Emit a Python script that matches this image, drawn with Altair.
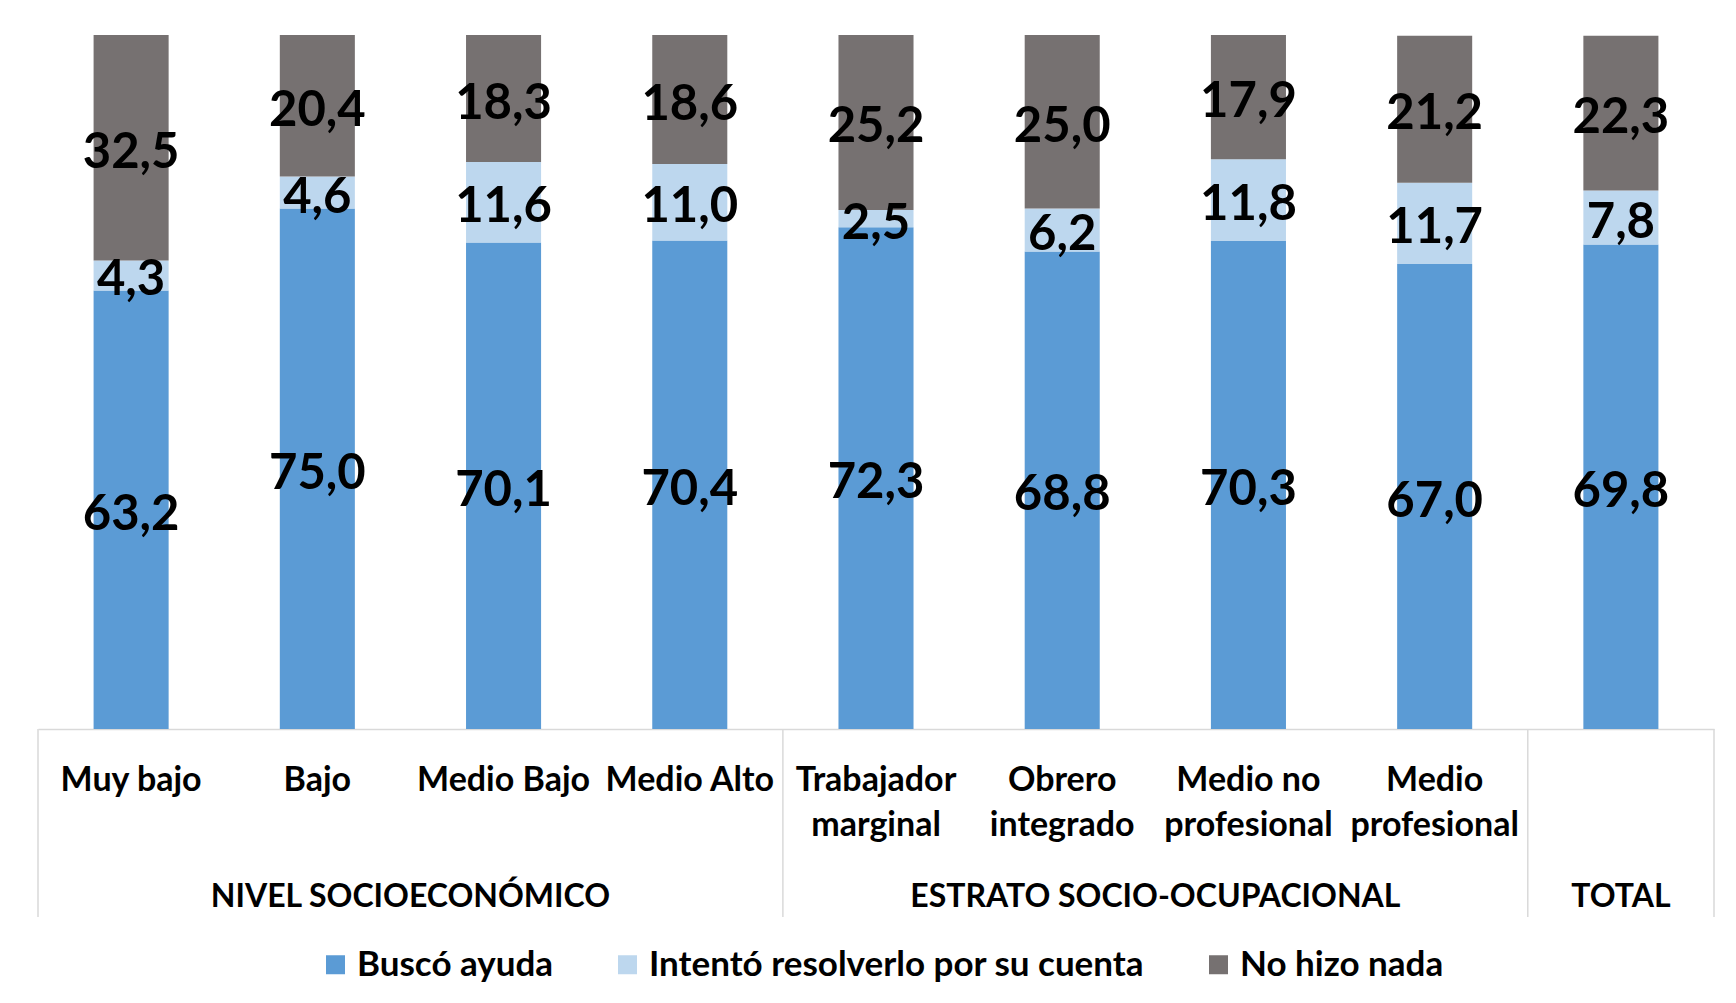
import altair as alt
import pandas as pd

categories = ["Muy bajo", "Bajo", "Medio Bajo", "Medio Alto", "Trabajador|marginal",
              "Obrero|integrado", "Medio no|profesional", "Medio|profesional", "TOTAL"]
series = ["Buscó ayuda", "Intentó resolverlo por su cuenta", "No hizo nada"]
busco = [63.2, 75.0, 70.1, 70.4, 72.3, 68.8, 70.3, 67.0, 69.8]
intento = [4.3, 4.6, 11.6, 11.0, 2.5, 6.2, 11.8, 11.7, 7.8]
nada = [32.5, 20.4, 18.3, 18.6, 25.2, 25.0, 17.9, 21.2, 22.3]
colors = ["#5B9BD5", "#BDD7EE", "#767171"]

group_names = ["NIVEL SOCIOECONÓMICO", "ESTRATO SOCIO-OCUPACIONAL"]
group_anchor = ["Medio Bajo", "Medio no|profesional"]   # label sits at left edge of this band
total_group = ["TOTAL"]
sep_left = ["Muy bajo", "Trabajador|marginal", "TOTAL"]
sep_right = ["TOTAL"]

rows = []
for i, c in enumerate(categories):
    for k, (s, vals) in enumerate(zip(series, [busco, intento, nada])):
        v = vals[i]
        rows.append({"cat": c, "serie": s, "value": v, "ord": k,
                     "label": f"{v:.1f}".replace(".", ",")})
df = pd.DataFrame(rows)

FONT = "Lato"
x_enc = alt.X("cat:N", sort=categories,
              scale=alt.Scale(paddingInner=0, paddingOuter=0),
              axis=alt.Axis(title=None, labelAngle=0, ticks=False,
                            domainColor="#D9D9D9", domainWidth=1.5,
                            labelFont=FONT, labelFontSize=34, labelFontWeight="bold",
                            labelColor="#000000", labelBaseline="top",
                            labelPadding=34, labelLineHeight=45, labelLimit=500,
                            labelOverlap=False, labelFlush=False,
                            labelExpr="datum.label == 'TOTAL' ? '' : split(datum.label, '|')"))
y_scale = alt.Scale(domain=[0, 100], nice=False)

base = alt.Chart(df)

bars = base.mark_bar(width=alt.RelativeBandSize(0.403)).encode(
    x=x_enc,
    y=alt.Y("value:Q", stack="zero", scale=y_scale, axis=None),
    color=alt.Color("serie:N", sort=series,
                    scale=alt.Scale(domain=series, range=colors),
                    legend=alt.Legend(title=None, orient="none", direction="horizontal",
                                      columns=3, legendX=280, legendY=912,
                                      symbolType="square", symbolSize=361,
                                      symbolStrokeWidth=0, labelFont=FONT,
                                      labelFontSize=35, labelFontWeight="bold",
                                      labelColor="#000000", columnPadding=56,
                                      labelOffset=4, labelLimit=800)),
    order=alt.Order("ord:Q"),
)

texts = base.transform_stack(
    stack="value", groupby=["cat"], sort=[alt.SortField("ord")], as_=["y0", "y1"]
).transform_calculate(
    mid="(datum.y0 + datum.y1) / 2"
).mark_text(font=FONT, fontSize=49, fontWeight="bold", color="#000000",
            baseline="middle", align="center", dy=5).encode(
    x=alt.X("cat:N", sort=categories),
    y=alt.Y("mid:Q", scale=y_scale),
    text="label:N",
)

gdf = pd.DataFrame({"cat": group_anchor, "g": group_names})
glabels = alt.Chart(gdf).mark_text(font=FONT, fontSize=32, fontWeight="bold",
                                   color="#000000", baseline="middle", dy=168).encode(
    x=alt.X("cat:N", sort=categories, bandPosition=0),
    y=alt.datum(0, scale=y_scale),
    text="g:N",
)
tdf = pd.DataFrame({"cat": total_group, "g": total_group})
tlabel = alt.Chart(tdf).mark_text(font=FONT, fontSize=32, fontWeight="bold",
                                  color="#000000", baseline="middle", dy=168).encode(
    x=alt.X("cat:N", sort=categories, bandPosition=0.5),
    y=alt.datum(0, scale=y_scale),
    text="g:N",
)

sl = alt.Chart(pd.DataFrame({"cat": sep_left})).mark_rule(color="#D9D9D9", strokeWidth=1.5).encode(
    x=alt.X("cat:N", sort=categories, bandPosition=0),
    y=alt.datum(0, scale=y_scale),
    y2=alt.datum(-27.1),
)
sr = alt.Chart(pd.DataFrame({"cat": sep_right})).mark_rule(color="#D9D9D9", strokeWidth=1.5).encode(
    x=alt.X("cat:N", sort=categories, bandPosition=1),
    y=alt.datum(0, scale=y_scale),
    y2=alt.datum(-27.1),
)

chart = alt.layer(bars, texts, sl, sr, glabels, tlabel).properties(
    width=1676, height=694,
    padding={"left": 30, "top": 27, "right": 10, "bottom": 255},
    autosize=alt.AutoSizeParams(type="none"),
).configure_view(stroke="transparent")

chart.save("out.html", embed_options={"renderer": "svg", "actions": False})
